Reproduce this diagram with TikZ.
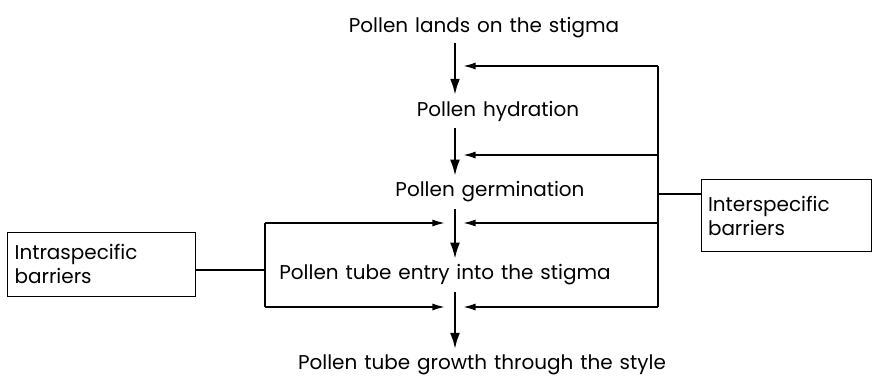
\documentclass[tikz,border=0pt]{standalone}
\usepackage{fontspec}
\setmainfont{Poppins}[WordSpace={1.3}]
\usetikzlibrary{arrows.meta,positioning,calc}

\begin{document}
\begin{tikzpicture}[
    font=\fontsize{14.2}{17}\selectfont,
    stage/.style={inner sep=2pt},
    barrierbox/.style={draw, line width=0.9pt, align=left, inner sep=5pt, text width=#1},
    mainarrow/.style={line width=2.1pt, -{Latex[length=12pt, width=7pt]}},
    fbarrow/.style={line width=1.2pt, -{Latex[length=9pt, width=5pt]}},
    fbline/.style={line width=0.9pt}
]

  % Fundo
  \path[use as bounding box, fill=white] (-10.9,-4.85) rectangle (10.9,4.85);

  % =========================================================================
  % ETAPAS (COLUNA CENTRAL)
  % =========================================================================
  \node[stage] (lands) at (1.2, 4.15) {Pollen lands on the stigma};
  \node[stage] (hydr) at (1.55, 2.075) {Pollen hydration};
  \node[stage] (germ) at (1.35, 0.05) {Pollen germination};
  \node[stage] (entry) at (0.225, -2.025) {Pollen tube entry into the stigma};
  \node[stage] (growth) at (1.15, -4.275) {Pollen tube growth through the style};

  \coordinate (spine) at (0.475, 0);

  \draw[mainarrow] ($(spine |- lands.south)+(0,-0.05)$) -- ($(spine |- hydr.north)+(0,0.05)$);
  \draw[mainarrow] ($(spine |- hydr.south)+(0,-0.1)$) -- ($(spine |- germ.north)+(0,0.05)$);
  \draw[mainarrow] ($(spine |- germ.south)+(0,-0.1)$) -- ($(spine |- entry.north)+(0,0.05)$);
  \draw[mainarrow] ($(spine |- entry.south)+(0,-0.1)$) -- ($(spine |- growth.north)+(0,0.05)$);

  % =========================================================================
  % BARREIRAS INTERESPECIFICAS (DIREITA)
  % =========================================================================
  \node[barrierbox=3.9cm, line width=0.6pt, minimum height=1.8cm] (inter) at (8.75, -0.54) {Interspecific\\barriers};

  \foreach \y/\n in {3.2/a, 0.975/b, -0.725/c, -2.825/d} {
    \coordinate (r\n) at (5.55, \y);
    \coordinate (rt\n) at (0.675, \y);
    \draw[fbarrow] (r\n) -- (rt\n);
  }
  \draw[fbline] (ra) -- (rd);
  \draw[fbline] (inter.west |- 0,0) -- (5.55, 0);

  % =========================================================================
  % BARREIRAS INTRAESPECIFICAS (ESQUERDA)
  % =========================================================================
  \node[barrierbox=4.35cm, line width=1.2pt, minimum height=1.6cm] (intra) at (-8.36, -1.76) {Intraspecific\\barriers};

  \foreach \y/\n in {-0.725/c, -2.825/d} {
    \coordinate (l\n) at (-4.275, \y);
    \coordinate (lt\n) at (0.225, \y);
    \draw[fbarrow] (l\n) -- (lt\n);
  }
  \draw[fbline] (lc) -- (ld);
  \draw[fbline] (intra.east |- 0,-1.9) -- (-4.275, -1.9);

\end{tikzpicture}
\end{document}
